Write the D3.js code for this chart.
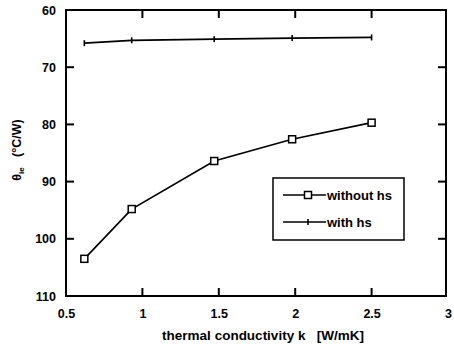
<!DOCTYPE html>
<html>
<head>
<meta charset="utf-8">
<script src="https://cdn.jsdelivr.net/npm/d3@7"></script>
<style>
  body { margin: 0; background: #fff; }
  svg text { font-family: "Liberation Sans", Arial, sans-serif; fill: #000; }
</style>
</head>
<body>
<div id="chart"></div>
<script>
// thermal conductivity k [W/mK]
const kValues = [0.62, 0.93, 1.47, 1.98, 2.5];
// theta_ie (°C/W)
const withoutHs = [103.5, 94.8, 86.4, 82.6, 79.7];
const withHs = [65.8, 65.3, 65.1, 64.9, 64.8];
const xTicks = [0.5, 1, 1.5, 2, 2.5, 3];
const yTicks = [60, 70, 80, 90, 100, 110];
const legendLabels = ["without hs", "with hs"];

const width = 454;
const height = 351;
const margin = { top: 10, right: 6, bottom: 55, left: 66 };
const plotW = 448 - margin.left;
const plotH = 296 - margin.top;

const svg = d3
  .select("#chart")
  .append("svg")
  .attr("width", width)
  .attr("height", height);

const xScale = d3.scaleLinear().domain([0.5, 3]).range([margin.left, margin.left + plotW]);
const yScale = d3.scaleLinear().domain([60, 110]).range([margin.top, margin.top + plotH]);

const tickLen = 8;

// frame
svg
  .append("rect")
  .attr("x", margin.left)
  .attr("y", margin.top)
  .attr("width", plotW - 2)
  .attr("height", plotH)
  .attr("fill", "none")
  .attr("stroke", "#000")
  .attr("stroke-width", 2);

// tick labels (tick marks drawn inward below)
const xAxis = d3.axisBottom(xScale).tickValues(xTicks).tickFormat(d3.format("")).tickSize(0).tickPadding(11);
const yAxis = d3.axisLeft(yScale).tickValues(yTicks).tickSize(0).tickPadding(10);

const gx = svg.append("g").attr("transform", `translate(0, ${margin.top + plotH})`).call(xAxis);
const gy = svg.append("g").attr("transform", `translate(${margin.left}, 0)`).call(yAxis);
[gx, gy].forEach((g) => {
  g.select(".domain").remove();
  g.selectAll("text").attr("font-size", 12.5).attr("font-weight", "bold").attr("font-family", "Liberation Sans, Arial, sans-serif");
});
gx.selectAll("text").attr("dy", "0.9em");

const inner = xTicks.slice(1, -1);
const innerY = yTicks.slice(1, -1);
const ticks = svg.append("g").attr("stroke", "#000").attr("stroke-width", 2);
inner.forEach((v) => {
  ticks.append("line").attr("x1", xScale(v)).attr("x2", xScale(v)).attr("y1", margin.top + plotH).attr("y2", margin.top + plotH - tickLen);
  ticks.append("line").attr("x1", xScale(v)).attr("x2", xScale(v)).attr("y1", margin.top).attr("y2", margin.top + tickLen);
});
innerY.forEach((v) => {
  ticks.append("line").attr("x1", margin.left).attr("x2", margin.left + tickLen).attr("y1", yScale(v)).attr("y2", yScale(v));
  ticks.append("line").attr("x1", margin.left + plotW - 2).attr("x2", margin.left + plotW - 2 - tickLen).attr("y1", yScale(v)).attr("y2", yScale(v));
});

const line = d3
  .line()
  .x((d) => xScale(d[0]))
  .y((d) => yScale(d[1]));

const series = [
  { name: legendLabels[0], values: withoutHs, marker: "square" },
  { name: legendLabels[1], values: withHs, marker: "plus" },
];

const drawMarker = (g, type, x, y) => {
  if (type === "square") {
    g.append("rect")
      .attr("x", x - 3.5)
      .attr("y", y - 3.5)
      .attr("width", 7)
      .attr("height", 7)
      .attr("fill", "#fff")
      .attr("stroke", "#000")
      .attr("stroke-width", 1.5);
  } else {
    g.append("line").attr("x1", x).attr("x2", x).attr("y1", y - 3).attr("y2", y + 3).attr("stroke", "#000").attr("stroke-width", 1.6);
  }
};

series.forEach((s) => {
  const pts = kValues.map((k, i) => [k, s.values[i]]);
  svg
    .append("path")
    .datum(pts)
    .attr("d", line)
    .attr("fill", "none")
    .attr("stroke", "#000")
    .attr("stroke-width", 1.7);
  const mg = svg.append("g");
  pts.forEach((p) => drawMarker(mg, s.marker, xScale(p[0]), yScale(p[1])));
});

// legend
const legend = svg.append("g").attr("transform", "translate(273, 178)");
legend
  .append("rect")
  .attr("width", 131)
  .attr("height", 62)
  .attr("fill", "#fff")
  .attr("stroke", "#000")
  .attr("stroke-width", 1.5);
series.forEach((s, i) => {
  const y = 17 + i * 27;
  legend.append("line").attr("x1", 10).attr("x2", 53).attr("y1", y).attr("y2", y).attr("stroke", "#000").attr("stroke-width", 1.7);
  drawMarker(legend, s.marker, 35, y);
  legend
    .append("text")
    .attr("x", 54)
    .attr("y", y + 4.5)
    .attr("font-size", 13)
    .attr("font-weight", "bold")
    .text(s.name);
});

// axis titles
svg
  .append("text")
  .attr("x", 263)
  .attr("y", 340)
  .attr("text-anchor", "middle")
  .attr("font-size", 13.5)
  .attr("font-weight", "bold")
  .text("thermal conductivity k\u00a0\u00a0\u00a0[W/mK]");

const yTitle = svg
  .append("text")
  .attr("transform", "translate(21, 150) rotate(-90)")
  .attr("text-anchor", "middle")
  .attr("font-size", 12.5)
  .attr("font-weight", "bold");
yTitle.append("tspan").text("\u03b8");
yTitle.append("tspan").attr("font-size", 8).attr("dy", 3).text("ie");
yTitle.append("tspan").attr("dy", -3).text("\u00a0\u00a0\u00a0(\u00b0C/W)");
</script>
</body>
</html>
